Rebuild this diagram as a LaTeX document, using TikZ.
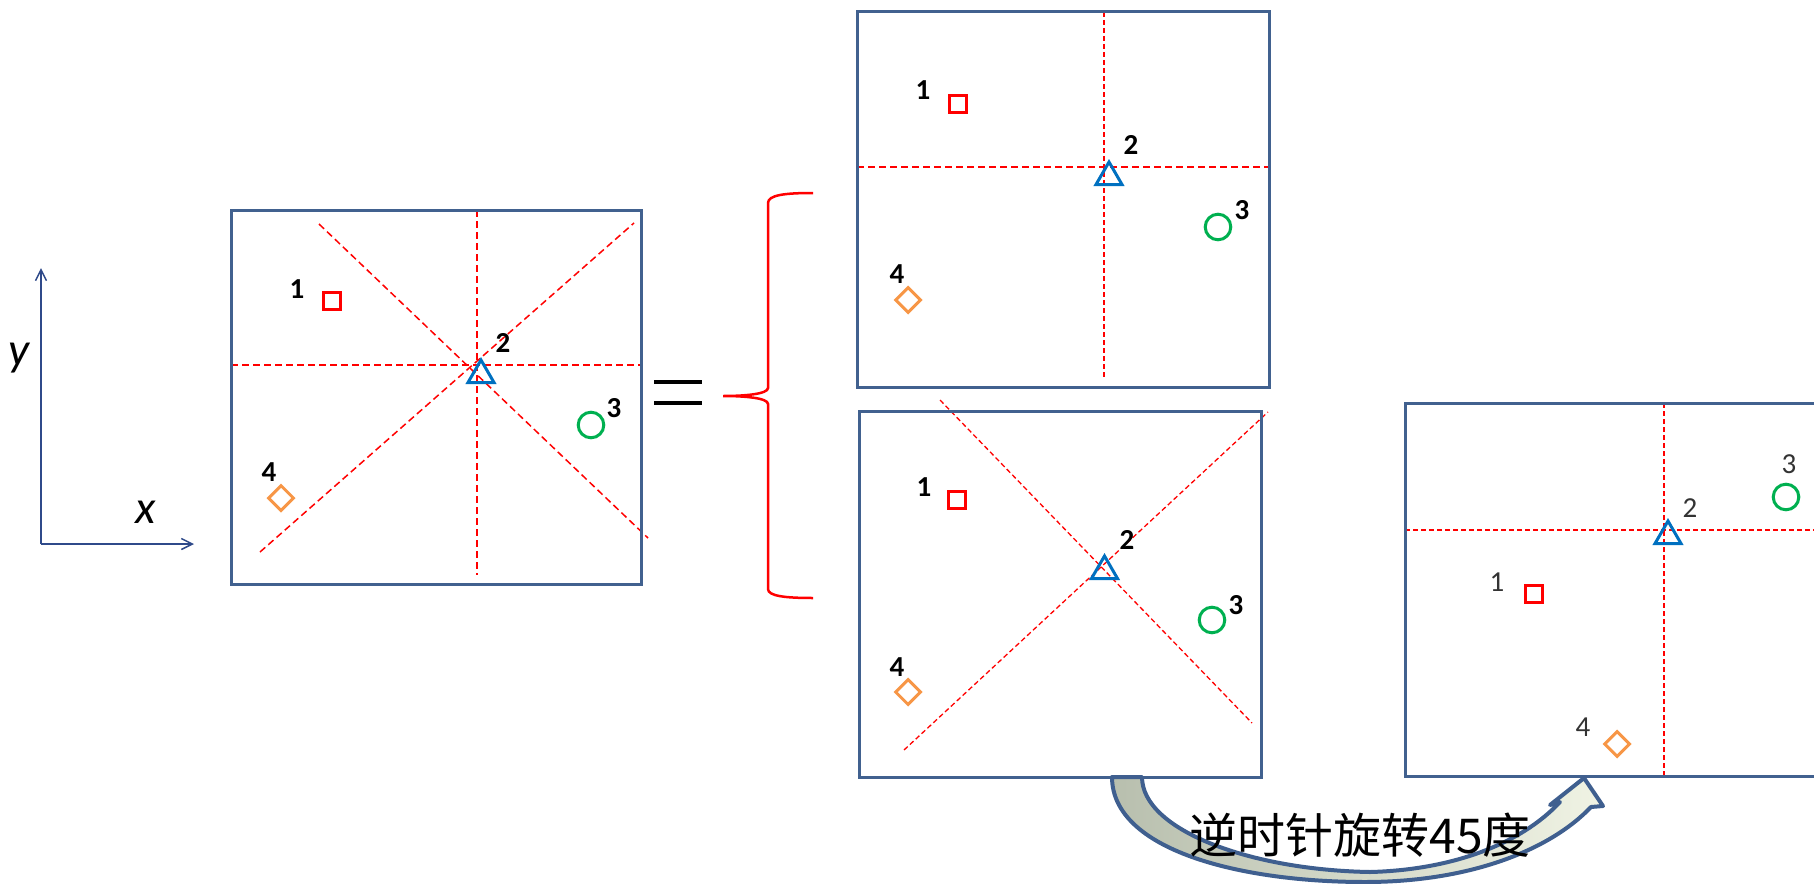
\documentclass[tikz,border=0pt]{standalone}
\usepackage{fontspec}
\setmainfont{Carlito}
\newfontfamily\cjkfont{Noto Sans CJK SC}
\usetikzlibrary{shapes.geometric,arrows.meta}
\definecolor{boxc}{HTML}{41618F}
\definecolor{axc}{HTML}{2F4A8A}
\definecolor{tblue}{HTML}{0070C0}
\definecolor{cgreen}{HTML}{00B050}
\definecolor{dorange}{HTML}{F79646}
\definecolor{arrowc}{HTML}{3F5F8F}
\definecolor{arrowl}{HTML}{B8BFAE}
\definecolor{arrowr}{HTML}{F0F3E4}
\tikzset{
  frame/.style={draw=boxc,line width=3pt},
  guide/.style={draw=red,line width=1.5pt,dash pattern=on 7pt off 4pt},
  fineguide/.style={draw=red,line width=1.3pt,dash pattern=on 5pt off 3pt},
  sq/.style={rectangle,draw=red,line width=3pt,minimum size=17pt,inner sep=0pt},
  tri/.style={regular polygon,regular polygon sides=3,draw=tblue,line width=3pt,minimum size=30pt,inner sep=0pt},
  circ/.style={circle,draw=cgreen,line width=3pt,minimum size=25.6pt,inner sep=0pt},
  dia/.style={diamond,draw=dorange,line width=3pt,minimum size=26pt,inner sep=0pt},
  lab/.style={font=\fontsize{29}{29}\selectfont\bfseries,inner sep=0pt},
  lablight/.style={font=\fontsize{29}{29}\selectfont,text=black!80,inner sep=0pt},
  axis/.style={draw=axc,line width=1.5pt},
  axl/.style={font=\fontsize{47}{47}\selectfont\itshape,inner sep=0pt},
  bracec/.style={draw=red,line width=2.5pt},
  eqbar/.style={draw=black,line width=4pt},
}
\begin{document}
\begin{tikzpicture}[x=1pt,y=-1pt]
\useasboundingbox (0,0) rectangle (1814,883);

% axes
\coordinate (ao) at (41,544);
\coordinate (ay) at (41,268);
\coordinate (ax) at (194,544);
\draw[axis,-{Straight Barb[length=11pt,width=11pt]}] (ao) -- (ay);
\draw[axis,-{Straight Barb[length=11pt,width=11pt]}] (ao) -- (ax);
\node[axl,anchor=base] (ylab) at (19,365) {y};
\node[axl,anchor=base] (xlab) at (146,523) {x};

% box 1
\draw[guide] (477,210) -- (477,575);
\draw[guide] (231,365) -- (641,365);
\draw[guide] (319,224) -- (648,538);
\draw[guide] (260,552) -- (634,223);
\draw[frame] (231,210) rectangle (641,584);
\node[sq] (a1) at (332,301) {};
\node[tri] (a2) at (481,375) {};
\node[circ] (a3) at (591,425) {};
\node[dia] (a4) at (281,498) {};
\node[lab] (la1) at (297,289) {1};
\node[lab] (la2) at (503,343) {2};
\node[lab] (la3) at (614,408) {3};
\node[lab] (la4) at (269,472) {4};

% equals sign and brace
\coordinate (eqa1) at (654,382); \coordinate (eqb1) at (702,382);
\coordinate (eqa2) at (654,403); \coordinate (eqb2) at (702,403);
\draw[eqbar] (eqa1) -- (eqb1);
\draw[eqbar] (eqa2) -- (eqb2);
\draw[bracec] (813,193) .. controls (785,193) and (768,195) .. (768,203)
  -- (768,388) .. controls (768,394) and (745,396) .. (723,396)
  .. controls (745,396) and (768,398) .. (768,404)
  -- (768,589) .. controls (768,596) and (785,598) .. (813,598);

% box 2
\draw[fineguide] (1104,12) -- (1104,377);
\draw[guide] (857,167) -- (1269,167);
\draw[frame] (857,12) rectangle (1269,387);
\node[sq] (b1) at (958,104) {};
\node[tri] (b2) at (1109,177) {};
\node[circ] (b3) at (1218,227) {};
\node[dia] (b4) at (908,300) {};
\node[lab] (lb1) at (923,90) {1};
\node[lab] (lb2) at (1131,145) {2};
\node[lab] (lb3) at (1242,210) {3};
\node[lab] (lb4) at (897,274) {4};

% box 3
\draw[fineguide] (940,400) -- (1252,723);
\draw[fineguide] (904,750) -- (1268,412);
\draw[frame] (859,411) rectangle (1261,777);
\node[sq] (c1) at (957,500) {};
\node[tri] (c2) at (1104.5,571) {};
\node[circ] (c3) at (1212,620) {};
\node[dia] (c4) at (908,692) {};
\node[lab] (lc1) at (924,487) {1};
\node[lab] (lc2) at (1127,540) {2};
\node[lab] (lc3) at (1236,605) {3};
\node[lab] (lc4) at (897,667) {4};

% box 4
\draw[fineguide] (1664,403) -- (1664,776);
\draw[fineguide] (1405,530) -- (1814,530);
\draw[frame] (1405,403) rectangle (1840,776);
\node[sq] (d1) at (1534,594) {};
\node[tri] (d2) at (1668,536) {};
\node[circ] (d3) at (1786,497) {};
\node[dia] (d4) at (1617,744) {};
\node[lablight] (ld1) at (1497,582) {1};
\node[lablight] (ld2) at (1690,508) {2};
\node[lablight] (ld3) at (1789,464) {3};
\node[lablight] (ld4) at (1583,727) {4};

% curved arrow
\draw[draw=arrowc,line width=4pt,line join=round,left color=arrowl,right color=arrowr]
  (1112,777) .. controls (1112,850) and (1240,882) .. (1365,882)
  .. controls (1470,882) and (1550,850) .. (1591,807)
  -- (1603,806) -- (1584,778) -- (1550,805) -- (1560,802)
  .. controls (1520,845) and (1450,870) .. (1370,872)
  .. controls (1250,870) and (1142,830) .. (1142,777) -- cycle;
\node[font=\cjkfont\fontsize{48}{48}\selectfont,inner sep=0pt] (rot) at (1360,835) {逆时针旋转45度};
\end{tikzpicture}
\end{document}
